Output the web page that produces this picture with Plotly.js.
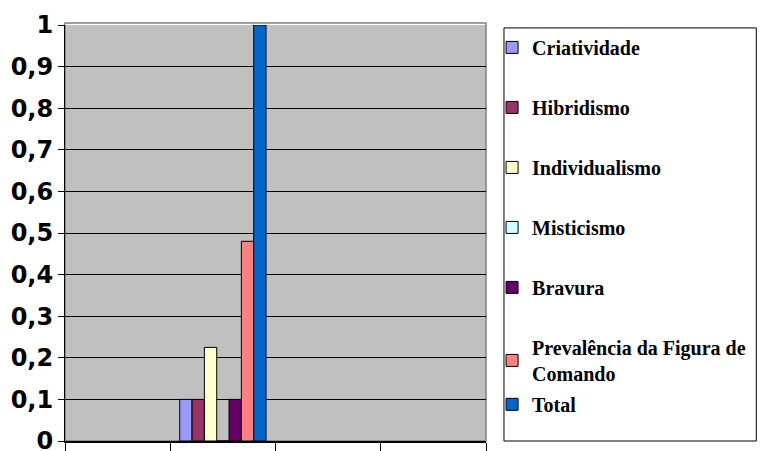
<!DOCTYPE html>
<html>
<head>
<meta charset="utf-8">
<script src="https://cdn.plot.ly/plotly-3.0.1.min.js"></script>
<style>
  html, body { margin: 0; padding: 0; background: #ffffff; }
  #chart { width: 760px; height: 451px; }
</style>
</head>
<body>
<div id="chart"></div>
<script>
// ---- data ----
const categories = ['Grupo 1', 'Grupo 2', 'Grupo 3', 'Grupo 4'];
const seriesNames = [
  'Criatividade',
  'Hibridismo',
  'Individualismo',
  'Misticismo',
  'Bravura',
  'Prevalência da Figura de<br>Comando',
  'Total'
];
const seriesValues = [0.1, 0.1, 0.225, 0, 0.1, 0.48, 1];
const seriesCategory = 'Grupo 2';
const seriesColors = ['#9999FF', '#993366', '#FFFFCC', '#CCFFFF', '#660066', '#FF8080', '#0066CC'];
const yTickVals = [0, 0.1, 0.2, 0.3, 0.4, 0.5, 0.6, 0.7, 0.8, 0.9, 1];

// ---- traces ----
const traces = seriesNames.map((name, i) => ({
  type: 'bar',
  name: name,
  x: [seriesCategory],
  y: [seriesValues[i]],
  marker: { color: seriesColors[i], line: { color: '#000000', width: 1 } },
  legendgroup: 'g' + i,
  legend: i === seriesNames.length - 1 ? 'legend2' : 'legend',
  hoverinfo: 'name+y'
}));

const legendFont = { family: '"Liberation Serif", "Times New Roman", serif', size: 20, color: '#000000', weight: 'bold' };

const layout = {
  width: 760,
  height: 451,
  margin: { l: 65, r: 273, t: 25, b: 10, pad: 0 },
  paper_bgcolor: '#ffffff',
  plot_bgcolor: '#C0C0C0',
  separators: ',.',
  barmode: 'group',
  bargap: 0.18,
  bargroupgap: 0,
  showlegend: true,
  xaxis: {
    type: 'category',
    categoryorder: 'array',
    categoryarray: categories,
    range: [-0.5, 3.5],
    tickson: 'boundaries',
    ticks: 'outside',
    ticklen: 9,
    tickcolor: '#000000',
    showticklabels: false,
    showgrid: false,
    showline: true,
    linecolor: '#000000',
    linewidth: 2,
    zeroline: false,
    fixedrange: true
  },
  yaxis: {
    range: [0, 1],
    tickvals: yTickVals,
    ticks: 'outside',
    ticklen: 6,
    tickcolor: '#000000',
    ticklabeloverflow: 'allow',
    tickfont: { family: '"DejaVu Sans", Arial, sans-serif', size: 24, color: '#000000', weight: 'bold' },
    showgrid: true,
    gridcolor: '#000000',
    gridwidth: 1,
    showline: true,
    linecolor: '#000000',
    linewidth: 1,
    zeroline: false,
    fixedrange: true
  },
  legend: {
    x: 1.012, xanchor: 'left',
    y: 0.993, yanchor: 'top',
    traceorder: 'grouped',
    tracegroupgap: 31,
    font: legendFont,
    bgcolor: 'rgba(0,0,0,0)',
    borderwidth: 0,
    itemclick: false, itemdoubleclick: false
  },
  legend2: {
    x: 1.012, xanchor: 'left',
    y: 0.135, yanchor: 'top',
    font: legendFont,
    bgcolor: 'rgba(0,0,0,0)',
    borderwidth: 0,
    itemclick: false, itemdoubleclick: false
  },
  shapes: [
    { type: 'rect', xref: 'paper', yref: 'paper', x0: 0, x1: 1, y0: 0, y1: 1.005,
      line: { color: '#808080', width: 1.5 }, fillcolor: 'rgba(0,0,0,0)', layer: 'below' },
    { type: 'rect', xref: 'paper', yref: 'paper', x0: 1.0427, x1: 1.642, y0: 0, y1: 0.993,
      line: { color: '#000000', width: 1 }, fillcolor: 'rgba(0,0,0,0)', layer: 'above' }
  ]
};

Plotly.newPlot('chart', traces, layout, { displayModeBar: false, staticPlot: false });
</script>
</body>
</html>
